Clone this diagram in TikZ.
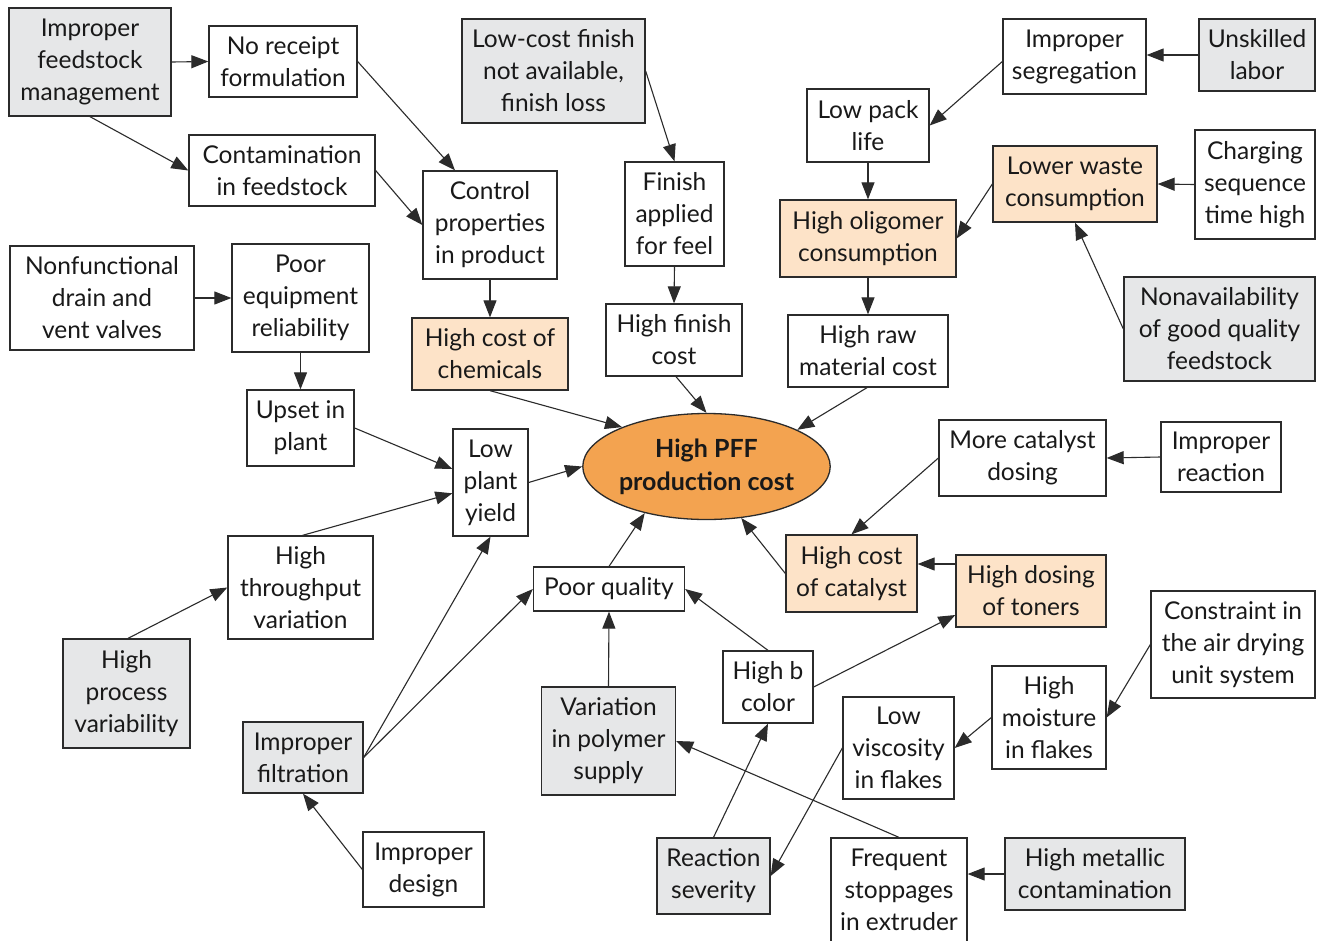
\documentclass[tikz,border=0pt]{standalone}
\usepackage{fontspec}
\setmainfont{Lato}
\usetikzlibrary{arrows.meta,shapes.geometric}
\definecolor{grayfill}{HTML}{E6E7E8}
\definecolor{peach}{HTML}{FDE3C8}
\definecolor{orangefill}{HTML}{F3A350}
\definecolor{edgecol}{HTML}{2B2B2B}
\tikzset{
 box/.style={draw=edgecol, line width=1.3pt, align=center, inner sep=0pt, font=\fontsize{24.5}{32}\selectfont, text=black!90},
 gbox/.style={box, fill=grayfill},
 obox/.style={box, fill=peach},
 arr/.style={draw=edgecol, line width=1.1pt, -{Triangle[length=17pt,width=13pt]}},
}
\begin{document}
\begin{tikzpicture}[x=1pt,y=-1pt]
\useasboundingbox[fill=white] (0,0) rectangle (1317,940);
% left top
\node[gbox, minimum width=162pt, minimum height=108pt] (feed) at (90,62) {Improper\\feedstock\\management};
\node[box, minimum width=148pt, minimum height=71pt] (norec) at (283,61.5) {No receipt\\formulation};
\node[box, minimum width=186pt, minimum height=71pt] (contam) at (282,170.5) {Contamination\\in feedstock};
\node[box, minimum width=134pt, minimum height=108pt] (control) at (490,225) {Control\\properties\\in product};
\node[gbox, minimum width=183pt, minimum height=104pt] (lowcost) at (553.5,71) {Low-cost finish\\not available,\\finish loss};
\node[box, minimum width=99pt, minimum height=104pt] (finapp) at (674.5,214) {Finish\\applied\\for feel};
\node[box, minimum width=136pt, minimum height=72pt] (hfincost) at (674,340) {High finish\\cost};
\node[obox, minimum width=156pt, minimum height=72pt] (chem) at (490,354) {High cost of\\chemicals};
\node[box, minimum width=184pt, minimum height=104pt] (nonfun) at (102,298) {Nonfunctional\\drain and\\vent valves};
\node[box, minimum width=137pt, minimum height=108pt] (pooreq) at (300.5,298) {Poor\\equipment\\reliability};
\node[box, minimum width=107pt, minimum height=76pt] (upset) at (300.5,428) {Upset in\\plant};
\node[box, minimum width=75pt, minimum height=107pt] (lowyield) at (490.5,482.5) {Low\\plant\\yield};
\node[box, minimum width=145pt, minimum height=103pt] (highthr) at (300.5,587.5) {High\\throughput\\variation};
\node[gbox, minimum width=127pt, minimum height=109pt] (hproc) at (126.5,693.5) {High\\process\\variability};
\node[gbox, minimum width=120pt, minimum height=71pt] (filt) at (303,757.5) {Improper\\filtration};
\node[box, minimum width=121pt, minimum height=75pt] (design) at (423.5,869.5) {Improper\\design};
\node[box, minimum width=151pt, minimum height=44pt] (poorq) at (609,589) {Poor quality};
\node[gbox, minimum width=134pt, minimum height=108pt] (varpoly) at (608.5,741) {Variation\\in polymer\\supply};
\node[box, minimum width=90pt, minimum height=72pt] (highb) at (768,687) {High b\\color};
\node[gbox, minimum width=113pt, minimum height=76pt] (reaction) at (713.5,876) {Reaction\\severity};
\node[box, minimum width=136pt, minimum height=104pt] (frequent) at (899,890) {Frequent\\stoppages\\in extruder};
\node[gbox, minimum width=180pt, minimum height=72pt] (metallic) at (1095,874) {High metallic\\contamination};
\node[box, minimum width=111pt, minimum height=102pt] (lowvisc) at (898.5,748) {Low\\viscosity\\in flakes};
\node[box, minimum width=114pt, minimum height=103pt] (moisture) at (1049,717.5) {High\\moisture\\in flakes};
\node[box, minimum width=164pt, minimum height=107pt] (constraint) at (1233,644.5) {Constraint in\\the air drying\\unit system};
\node[obox, minimum width=150pt, minimum height=72pt] (toners) at (1031,591) {High dosing\\of toners};
\node[obox, minimum width=131pt, minimum height=77pt] (catcost) at (851.5,573.5) {High cost\\of catalyst};
\node[box, minimum width=167pt, minimum height=76pt] (morecat) at (1022.5,458) {More catalyst\\dosing};
\node[box, minimum width=120pt, minimum height=70pt] (impreact) at (1221,457) {Improper\\reaction};
\node[box, minimum width=160pt, minimum height=72pt] (rawmat) at (868,351) {High raw\\material cost};
\node[obox, minimum width=176pt, minimum height=77pt] (oligomer) at (868,238.5) {High oligomer\\consumption};
\node[box, minimum width=122pt, minimum height=73pt] (lowpack) at (868,125.5) {Low pack\\life};
\node[box, minimum width=143pt, minimum height=75pt] (segreg) at (1074.5,56.5) {Improper\\segregation};
\node[gbox, minimum width=116pt, minimum height=72pt] (unskilled) at (1257,55) {Unskilled\\labor};
\node[obox, minimum width=164pt, minimum height=76pt] (lowerwaste) at (1075,184) {Lower waste\\consumption};
\node[box, minimum width=120pt, minimum height=109pt] (charging) at (1255,184.5) {Charging\\sequence\\time high};
\node[gbox, minimum width=191pt, minimum height=104pt] (nonavail) at (1219.5,329) {Nonavailability\\of good quality\\feedstock};
\node[ellipse, draw=edgecol, line width=1.3pt, fill=orangefill, minimum width=239pt, minimum height=106pt, inner sep=0pt, align=center, text=black!90, font=\bfseries\fontsize{25}{33}\selectfont] (cost) at (706.5,466.5) {High PFF\\production cost};
% connectors
\draw[arr] (feed.east) -- (norec.west);
\draw[arr] (feed.south) -- (contam.west);
\draw[arr] (norec.east) -- ([xshift=-35pt]control.north);
\draw[arr] (contam.east) -- (control.west);
\draw[arr] (control.south) -- (chem.north);
\draw[arr] (lowcost.east) -- (finapp.north);
\draw[arr] (finapp.south) -- (hfincost.north);
\draw[arr] ([xshift=2pt]hfincost.south) -- (cost.north);
\draw[arr] (chem.south) -- (cost.155);
\draw[arr] (lowyield.east) -- (cost.west);
\draw[arr] ([xshift=-1pt]rawmat.south) -- (cost.22);
\draw[arr] (lowpack.south) -- (oligomer.north);
\draw[arr] (oligomer.south) -- (rawmat.north);
\draw[arr] ([yshift=-5pt]segreg.west) -- (lowpack.east);
\draw[arr] (unskilled.west) -- (unskilled.west -| segreg.east);
\draw[arr] (lowerwaste.west) -- (oligomer.east);
\draw[arr] (charging.west) -- (lowerwaste.east);
\draw[arr] (nonavail.west) -- (lowerwaste.south);
\draw[arr] (nonfun.east) -- (pooreq.west);
\draw[arr] (pooreq.south) -- (upset.north);
\draw[arr] (upset.east) -- ([yshift=13.5pt]lowyield.west);
\draw[arr] ([xshift=2pt]highthr.north) -- ([yshift=-10.8pt]lowyield.west);
\draw[arr] ([xshift=1.5pt]hproc.north) -- (highthr.west);
\draw[arr] (filt.east) -- (lowyield.south);
\draw[arr] (filt.east) -- (poorq.west);
\draw[arr] (design.west) -- (filt.south);
\draw[arr] (varpoly.north) -- (poorq.south);
\draw[arr] (poorq.north) -- (cost.217);
\draw[arr] (highb.north) -- (poorq.east);
\draw[arr] (highb.east) -- ([yshift=-24pt]toners.west);
\draw[arr] (catcost.west) -- (cost.304);
\draw[arr] ([yshift=27pt]toners.west) -- ([yshift=9.5pt]catcost.east);
\draw[arr] (morecat.west) -- (catcost.north);
\draw[arr] (impreact.west) -- (morecat.east);
\draw[arr] (constraint.west) -- (moisture.east);
\draw[arr] (moisture.west) -- (lowvisc.east);
\draw[arr] (lowvisc.west) -- (reaction.east);
\draw[arr] (reaction.north) -- (highb.south);
\draw[arr] (frequent.north) -- (varpoly.east);
\draw[arr] (metallic.west) -- (metallic.west -| frequent.east);
\end{tikzpicture}
\end{document}
